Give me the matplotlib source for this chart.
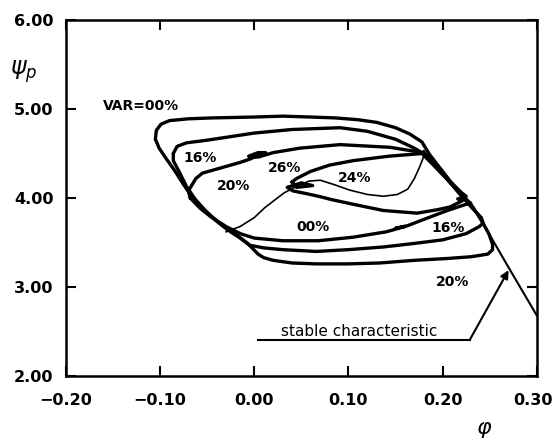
import matplotlib
matplotlib.use("Agg")
import matplotlib.pyplot as plt
import matplotlib.transforms as mtransforms

# ---------------- data ----------------
x_ticks = [-0.20, -0.10, 0.00, 0.10, 0.20, 0.30]
x_tick_labels = ["\u22120.20", "\u22120.10", "0.00", "0.10", "0.20", "0.30"]
y_ticks = [2.0, 3.0, 4.0, 5.0, 6.0]
y_tick_labels = ["2.00", "3.00", "4.00", "5.00", "6.00"]

# outer loop (VAR = 00 %)
loopA_x = [-0.105, -0.104, -0.099, -0.090, -0.070, -0.045, 0.000, 0.030, 0.060, 0.086,
           0.110, 0.130, 0.150, 0.165, 0.178, 0.186, 0.197, 0.208, 0.221, 0.232,
           0.241, 0.249, 0.253, 0.253, 0.248, 0.230, 0.204, 0.170, 0.133, 0.100,
           0.066, 0.040, 0.020, 0.010, 0.004, -0.007, -0.022, -0.037, -0.052, -0.064,
           -0.075, -0.084, -0.094, -0.101, -0.105]
loopA_y = [4.66, 4.76, 4.83, 4.87, 4.89, 4.90, 4.91, 4.92, 4.91, 4.90,
           4.88, 4.85, 4.79, 4.72, 4.63, 4.49, 4.34, 4.19, 4.04, 3.90,
           3.75, 3.60, 3.48, 3.42, 3.37, 3.34, 3.32, 3.30, 3.27, 3.26,
           3.26, 3.27, 3.30, 3.33, 3.37, 3.49, 3.61, 3.72, 3.85, 3.98,
           4.15, 4.30, 4.45, 4.56, 4.66]

# second loop
loopB_x = [-0.086, -0.082, -0.072, -0.050, -0.025, 0.000, 0.040, 0.091, 0.120, 0.150,
           0.170, 0.184, 0.197, 0.210, 0.222, 0.232, 0.241, 0.243, 0.239, 0.225,
           0.200, 0.170, 0.137, 0.100, 0.066, 0.030, 0.010, -0.005, -0.015, -0.028,
           -0.040, -0.052, -0.063, -0.072, -0.080, -0.086, -0.086]
loopB_y = [4.50, 4.58, 4.62, 4.65, 4.69, 4.73, 4.77, 4.79, 4.75, 4.66,
           4.56, 4.47, 4.32, 4.15, 4.00, 3.88, 3.78, 3.72, 3.68, 3.60,
           3.53, 3.49, 3.45, 3.42, 3.40, 3.42, 3.44, 3.47, 3.55, 3.64,
           3.74, 3.86, 3.99, 4.13, 4.30, 4.42, 4.50]

# third loop (16 % / 20 % region boundary and the 00 % bottom)
loopC_x = [-0.068, -0.070, -0.066, -0.062, -0.055, -0.035, -0.015, -0.004, 0.006, 0.012,
           0.004, -0.006, 0.004, 0.020, 0.048, 0.091, 0.144, 0.179, 0.195, 0.210,
           0.222, 0.230, 0.225, 0.205, 0.185, 0.163, 0.150, 0.160, 0.140, 0.105,
           0.068, 0.030, 0.000, -0.015, -0.030, -0.045, -0.057, -0.068]
loopC_y = [4.00, 4.08, 4.15, 4.22, 4.28, 4.34, 4.40, 4.44, 4.49, 4.51,
           4.51, 4.47, 4.46, 4.51, 4.56, 4.60, 4.57, 4.51, 4.32, 4.15,
           4.00, 3.94, 3.93, 3.86, 3.78, 3.69, 3.66, 3.68, 3.62, 3.56,
           3.52, 3.52, 3.55, 3.60, 3.68, 3.78, 3.88, 4.00]

# fourth loop (26 % / 24 %)
loopD_x = [0.040, 0.045, 0.060, 0.080, 0.105, 0.143, 0.178, 0.195, 0.208, 0.220,
           0.225, 0.216, 0.221, 0.208, 0.195, 0.173, 0.137, 0.105, 0.083, 0.068,
           0.055, 0.041, 0.035, 0.050, 0.062, 0.045, 0.040]
loopD_y = [4.18, 4.22, 4.30, 4.37, 4.42, 4.47, 4.50, 4.32, 4.18, 4.06,
           4.02, 3.99, 3.97, 3.90, 3.87, 3.83, 3.86, 3.93, 3.98, 4.02,
           4.05, 4.08, 4.12, 4.17, 4.14, 4.12, 4.18]

# thin line (00 % lower loop / 24 % bottom)
thin_x = [-0.030, -0.015, 0.000, 0.011, 0.022, 0.032, 0.045, 0.058, 0.070, 0.085,
          0.101, 0.120, 0.137, 0.152, 0.163, 0.170, 0.176, 0.180]
thin_y = [3.62, 3.68, 3.78, 3.89, 3.98, 4.06, 4.13, 4.19, 4.20, 4.15,
          4.09, 4.04, 4.02, 4.04, 4.10, 4.22, 4.36, 4.47]

# stable characteristic
stable_x = [0.180, 0.195, 0.210, 0.225, 0.240, 0.253, 0.270, 0.285, 0.300]
stable_y = [4.53, 4.32, 4.14, 3.98, 3.78, 3.53, 3.22, 2.95, 2.68]

# labels
label_text = ["VAR=00%", "16%", "20%", "26%", "24%", "00%", "16%", "20%"]
label_x = [-0.120, -0.058, -0.022, 0.032, 0.107, 0.062, 0.206, 0.210]
label_y = [5.03, 4.45, 4.13, 4.34, 4.23, 3.68, 3.66, 3.06]

stable_label = "stable characteristic"
stable_label_x = 0.111
stable_label_y = 2.50
pointer_x = [0.004, 0.229]
pointer_y = [2.41, 2.41]
arrow_tip = (0.270, 3.19)

# ---------------- drawing ----------------
fig = plt.figure(figsize=(5.54, 4.45), dpi=100)
ax = fig.add_axes([0.119, 0.155, 0.850, 0.800])

thick = dict(color="black", lw=2.4, solid_joinstyle="round", solid_capstyle="round")
ax.plot(loopA_x, loopA_y, **thick)
ax.plot(loopB_x, loopB_y, **thick)
ax.plot(loopC_x, loopC_y, **thick)
ax.plot(loopD_x, loopD_y, **thick)
ax.plot(thin_x, thin_y, color="black", lw=1.2)
ax.plot(stable_x, stable_y, color="black", lw=1.5)

for t, x, y in zip(label_text, label_x, label_y):
    ax.text(x, y, t, ha="center", va="center", fontsize=10, fontweight="bold")

ax.text(stable_label_x, stable_label_y, stable_label, ha="center", va="center",
        fontsize=11)
ax.plot(pointer_x, pointer_y, color="black", lw=1.5)
ax.annotate("", xy=arrow_tip, xytext=(pointer_x[1], pointer_y[1]),
            arrowprops=dict(arrowstyle="-|>", color="black", lw=1.5,
                            mutation_scale=12, shrinkA=0, shrinkB=0))

ax.set_xlim(-0.2, 0.3)
ax.set_ylim(2.0, 6.0)
ax.set_xticks(x_ticks)
ax.set_xticklabels(x_tick_labels)
ax.set_yticks(y_ticks)
ax.set_yticklabels(y_tick_labels)
ax.tick_params(direction="in", length=7, width=1.5, top=True, right=True,
               labelsize=11.5)
ax.tick_params(axis="x", pad=12)
ax.tick_params(axis="y", pad=9)
for lab in ax.get_xticklabels() + ax.get_yticklabels():
    lab.set_fontweight("bold")
for sp in ax.spines.values():
    sp.set_linewidth(1.8)

# keep the last x tick label inside the picture
last = ax.get_xticklabels()[-1]
last.set_transform(last.get_transform() +
                   mtransforms.ScaledTranslation(-4 / 100, 0, fig.dpi_scale_trans))

ax.text(-0.09, 0.855, r"$\psi_p$", transform=ax.transAxes, fontsize=17,
        ha="center", va="center")
fig.text(0.874, 0.034, r"$\varphi$", fontsize=16, ha="center", va="center")

fig.savefig("out.png", dpi=100)
